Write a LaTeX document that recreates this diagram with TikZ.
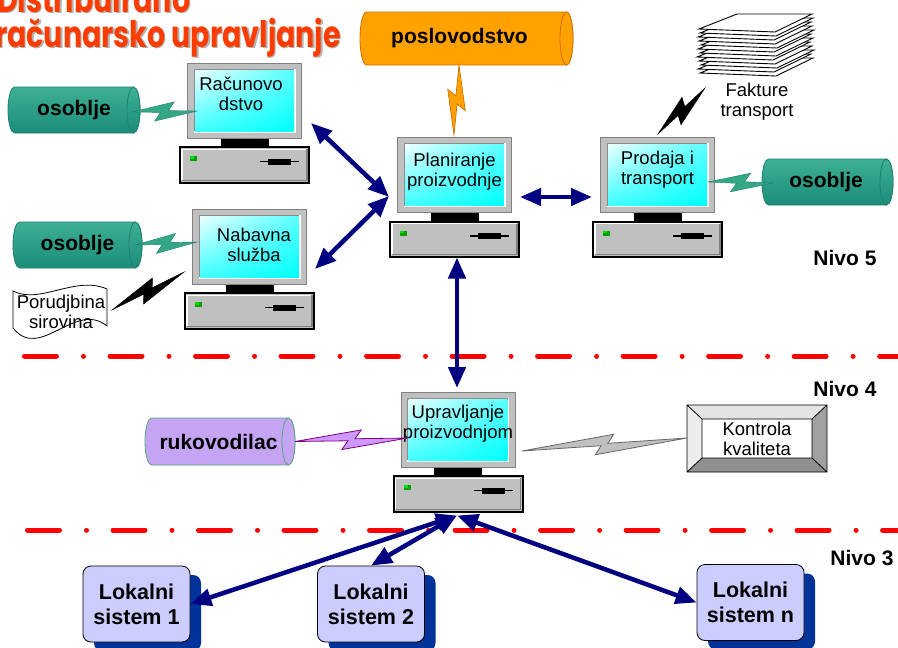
\documentclass[tikz,border=0pt]{standalone}
\usepackage{fontspec}
\setmainfont{Liberation Sans}
\newfontfamily\titlefont{Poppins}
\usetikzlibrary{arrows.meta,calc,shadows,shadings}

\definecolor{navyblue}{HTML}{000080}
\definecolor{framegray}{HTML}{C0C0C0}
\definecolor{edgegray}{HTML}{808080}
\definecolor{recessgray}{HTML}{8C8C8C}
\definecolor{tealtop}{HTML}{3DB095}
\definecolor{tealmid}{HTML}{70D2B6}
\definecolor{tealbot}{HTML}{1C8C78}
\definecolor{tealline}{HTML}{1E7F6E}
\definecolor{tealbolt}{HTML}{34A886}
\definecolor{orangetop}{HTML}{FFA200}
\definecolor{orangemid}{HTML}{FFD400}
\definecolor{orangeline}{HTML}{D07000}
\definecolor{lilac}{HTML}{C6A4F4}
\definecolor{lilacmid}{HTML}{E4DEFF}
\definecolor{lilacline}{HTML}{55A57F}
\definecolor{boltpurple}{HTML}{CC99FF}
\definecolor{purpleline}{HTML}{800080}
\definecolor{lokfill}{HTML}{CCCCFF}
\definecolor{lokshadow}{HTML}{003399}
\definecolor{titlered}{HTML}{FF3C00}
\definecolor{levelred}{HTML}{FF0000}
\definecolor{ledgreen}{HTML}{00A000}
\definecolor{ledlight}{HTML}{00E000}
\definecolor{bevellight}{HTML}{E4E4E4}
\definecolor{beveldark}{HTML}{A0A0A0}

% one workstation: monitor centred at (#2,#3), text offset #4, screen text #5
\newcommand\pcunit[5]{%
  \begin{scope}[shift={(#2,#3)}]
    \fill[black] (-24,37) rectangle (24,46.5);
    \node[monframe] (#1) at (0,0) {};
    \fill[white] (-51,-32) rectangle (51,32);
    \fill[recessgray] (-51,-32) rectangle (49.5,30.5);
    \shade[upper left=cyan!8!white, upper right=cyan!65!white,
           lower left=cyan!75!white, lower right=cyan] (-49.5,-30.5) rectangle (49.5,30.5);
    \node[pcbase] (#1-base) at (0,64.25) {};
    \draw[white, line width=1.2pt] (-62.5,79.5) -- (-62.5,48.8) -- (62.5,48.8);
    \draw[edgegray, line width=1.2pt] (-62.5,79.8) -- (62.5,79.8) -- (62.5,48.8);
    \fill[ledgreen] (-54.5,55.5) rectangle (-47.5,60.5);
    \fill[ledlight] (-54.5,55.5) rectangle (-50.5,58);
    \draw[black, line width=1.3pt] (15.5,61) -- (54.5,61);
    \fill[black] (23.5,58) rectangle (46.5,64);
    \node[scrtext] (#1-txt) at (#4) {#5};
  \end{scope}}

% horizontal cylinder: name, cx, cy, half length, half height, style, text, text shift
\newcommand\tube[8]{%
  \path[#6] (#2-#4+6.5,#3-#5) -- (#2+#4-6.5,#3-#5)
     arc[start angle=90, end angle=-90, x radius=6.5pt, y radius=#5pt]
     -- (#2-#4+6.5,#3+#5)
     arc[start angle=270, end angle=90, x radius=6.5pt, y radius=#5pt] -- cycle;
  \path[#6] (#2+#4-6.5,#3) ellipse[x radius=6.5pt, y radius=#5pt];
  \coordinate (#1-end) at (#2+#4-6.5,#3);
  \coordinate (#1-c) at (#2,#3);
  \node[tubetext] (#1) at (#2+#8,#3) {#7};}

% zig-zag link: style, start, end, half width
\newcommand\bolt[4]{%
  \coordinate (bS) at (#2);
  \coordinate (bE) at (#3);
  \coordinate (bP) at ($(bS)!0.5!(bE)!10pt!(bE)!9.5pt!90:(bE)$);
  \coordinate (bQ) at ($(bS)!0.5!(bE)!-10pt!(bE)!9.5pt!-90:(bE)$);
  \filldraw[#1] (bS) -- (bP) -- ($(bP)!0.45!(bQ)!#4pt!(bE)$) -- (bE)
     -- (bQ) -- ($(bP)!0.55!(bQ)!#4pt!(bS)$) -- cycle;}

\begin{document}
\begin{tikzpicture}[x=1pt, y=-1pt,
  monframe/.style={rectangle, minimum width=114pt, minimum height=75pt, inner sep=0pt,
    fill=framegray, draw=edgegray, line width=0.8pt},
  pcbase/.style={rectangle, minimum width=129pt, minimum height=35.5pt, inner sep=0pt,
    fill=framegray, draw=black, line width=2pt},
  scrtext/.style={font=\fontsize{18.5}{20}\selectfont, align=center, inner sep=0pt},
  tubetext/.style={font=\bfseries\fontsize{21}{24}\selectfont, inner sep=0pt},
  plaintext/.style={font=\fontsize{18.5}{20}\selectfont, align=center, inner sep=0pt},
  nivo/.style={font=\bfseries\fontsize{21}{24}\selectfont, inner sep=0pt},
  titletext/.style={font=\titlefont\bfseries\fontsize{30}{32}\selectfont, text=titlered,
    inner sep=0pt, anchor=base west, transform shape},
  titleshade/.style={font=\titlefont\bfseries\fontsize{30}{32}\selectfont, text=black!30,
    inner sep=0pt, anchor=base west, transform shape},
  tealtube/.style={top color=tealtop, middle color=tealmid, bottom color=tealbot, draw=tealline, line width=0.8pt},
  orangetube/.style={top color=orangetop, middle color=orangemid, bottom color=orangetop, draw=orangeline, line width=0.8pt},
  lilactube/.style={top color=lilac, middle color=lilacmid, bottom color=lilac, draw=lilacline, line width=0.8pt},
  tealzig/.style={fill=tealbolt, draw=tealline, line width=0.4pt},
  blackzig/.style={fill=black, draw=black, line width=0.4pt},
  orangezig/.style={fill=orangetop, draw=orangeline, line width=0.7pt},
  purplezig/.style={fill=boltpurple, draw=purpleline, line width=0.8pt},
  grayzig/.style={fill=framegray, draw=black!60, line width=0.8pt},
  levelline/.style={draw=levelred, line width=5pt, line cap=round,
    dash pattern=on 32pt off 27pt on 0.01pt off 26.5pt},
  link/.style={draw=navyblue, line width=4.5pt,
    {Triangle[length=21pt,width=17pt]}-{Triangle[length=21pt,width=17pt]}},
  lokal/.style={rectangle, rounded corners=8pt, fill=lokfill, draw=black, line width=0.8pt,
    minimum width=107pt, minimum height=76pt, align=center, inner sep=0pt,
    font=\bfseries\fontsize{21.5}{25}\selectfont,
    drop shadow={shadow xshift=11pt, shadow yshift=-9pt, fill=lokshadow, opacity=1}},
  sheet/.style={fill=white, draw=black, line width=0.9pt}
]
\useasboundingbox (0,0) rectangle (898,648);
\fill[white] (0,0) rectangle (898,648);

% title, two lines with a soft drop shadow
\begin{scope}[shift={(-3,12)}, xscale=0.95, yscale=1.22]
  \node[titleshade] (ttl1s) at (1.5,1.5) {Distribuirano};
  \node[titletext] (ttl1) at (0,0) {Distribuirano};
\end{scope}
\begin{scope}[shift={(-5,47)}, xscale=0.95, yscale=1.22]
  \node[titleshade] (ttl2s) at (1.5,1.5) {računarsko upravljanje};
  \node[titletext] (ttl2) at (0,0) {računarsko upravljanje};
\end{scope}

% level separators
\draw[levelline] (24.5,356) -- (900,356);
\draw[levelline] (27.5,530) -- (900,530);

% cylinders
\tube{osob1}{74}{110}{66}{23}{tealtube}{osoblje}{0}
\tube{osob2}{77.5}{245}{64.5}{23}{tealtube}{osoblje}{0}
\tube{osob3}{827.5}{182}{65.5}{23}{tealtube}{osoblje}{-1.5}
\tube{posl}{466.5}{38.5}{106.5}{26.5}{orangetube}{poslovodstvo}{-7}
\tube{ruko}{220}{441.5}{75}{23.5}{lilactube}{rukovodilac}{-1.5}

% workstations
\pcunit{racun}{244.5}{100.5}{-3.5,-6.5}{Računovo\\dstvo}
\pcunit{nabav}{249.5}{246.5}{4.5,-2}{Nabavna\\služba}
\pcunit{plan}{454.5}{175}{0,-3.5}{Planiranje\\proizvodnje}
\pcunit{prod}{657.5}{175}{0,-5}{Prodaja i\\transport}
\pcunit{uprav}{458}{429.5}{0,-5.5}{Upravljanje\\proizvodnjom}

% order document
\filldraw[sheet, line width=0.8pt] (13,291) .. controls (40,305) and (75,275) .. (107,289)
  -- (107,326) .. controls (75,300) and (40,362) .. (13,328) -- cycle;
\node[plaintext] (porud) at (61,312) {Porudjbina\\sirovina};

% stack of invoices
\foreach \k/\dx in {11/1,10/-1,9/2,8/0,7/-2,6/1,5/-1,4/2,3/0,2/-1,1/1,0/0}
  \filldraw[sheet] (699+\dx,29+4*\k) -- (737+\dx,14+4*\k) -- (812+\dx,14+4*\k) -- (775+\dx,32+4*\k) -- cycle;
\node[plaintext] (faktur) at (757,102) {Fakture\\transport};

% quality control box
\fill[bevellight] (687,405) -- (827,405) -- (812,419) -- (702,419) -- cycle;
\fill[bevellight!70!white] (687,405) -- (702,419) -- (702,458) -- (687,472) -- cycle;
\fill[beveldark] (827,405) -- (827,472) -- (812,458) -- (812,419) -- cycle;
\fill[beveldark!90!black] (687,472) -- (827,472) -- (812,458) -- (702,458) -- cycle;
\draw[black, line width=0.8pt] (687,405) rectangle (827,472) (702,419) rectangle (812,458)
  (687,405) -- (702,419) (827,405) -- (812,419) (687,472) -- (702,458) (827,472) -- (812,458);
\node[plaintext] (kontr) at (757,439) {Kontrola\\kvaliteta};

% zig-zag links
\bolt{tealzig}{$(osob1-end)+(-1.5,2)$}{$(racun)+(-47.5,10.5)$}{3}
\bolt{tealzig}{$(osob2-end)+(-0.5,0)$}{$(nabav)+(-52.5,-4.5)$}{3}
\bolt{blackzig}{$(porud)+(51,-2)$}{$(nabav)+(-65.5,25.5)$}{4.5}
\bolt{blackzig}{$(prod)+(0.5,-41)$}{$(faktur)+(-52,-14)$}{4.5}
\bolt{orangezig}{$(posl-c)+(-7.5,26.5)$}{$(plan)+(-0.5,-40)$}{3}
\bolt{tealzig}{$(prod)+(50.5,7)$}{$(osob3-c)+(-54.5,1)$}{3}
\bolt{purplezig}{$(ruko-end)+(6.5,0)$}{$(uprav)+(-50,8.5)$}{2.5}
\bolt{grayzig}{$(uprav)+(64,21.5)$}{$(kontr)+(-70,-1)$}{2.5}

% local systems
\node[lokal] (lok1) at (136.5,604) {Lokalni\\sistem 1};
\node[lokal] (lok2) at (371,604) {Lokalni\\sistem 2};
\node[lokal] (lokn) at (750.5,602.5) {Lokalni\\sistem n};

% level labels
\node[nivo] (nivo5) at (845,258) {Nivo 5};
\node[nivo] (nivo4) at (845,389) {Nivo 4};
\node[nivo] (nivo3) at (862,558) {Nivo 3};

% data links
\draw[link] ($(racun)+(66.5,22.5)$) -- ($(plan)+(-65.5,22)$);
\draw[link] ($(nabav)+(65.5,22.5)$) -- ($(plan)+(-65.5,21)$);
\draw[link] ($(plan)+(65.5,22)$) -- ($(prod)+(-65.5,22)$);
\draw[link] ($(plan-base.south)+(2.5,-0.5)$) -- ($(uprav)+(-1,-41.5)$);
\draw[link] ($(uprav-base.south)+(-1,3)$) -- (lok1.east);
\draw[link] ($(uprav-base.south)+(-1,3)$) -- (lok2.north);
\draw[link] ($(uprav-base.south)+(-1,3)$) -- (lokn.west);
\end{tikzpicture}
\end{document}
